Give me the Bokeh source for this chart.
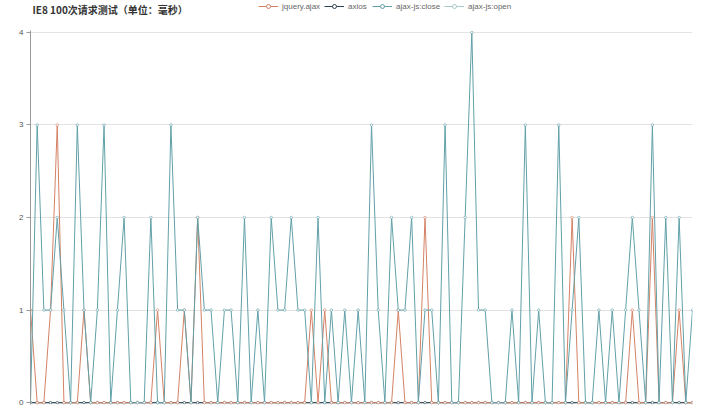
from bokeh.plotting import figure
from bokeh.layouts import column
from bokeh.models import Range1d, FixedTicker, Legend, LegendItem, Span, Label
from bokeh.embed import file_html
from bokeh.resources import INLINE

title_text = "IE8 100次请求测试（单位：毫秒）"
series_names = ["jquery.ajax", "axios", "ajax-js:close", "ajax-js:open"]
series_colors = ["#d48265", "#2f4554", "#61a0a8", "#a9c9c4"]
y_ticks = [0, 1, 2, 3, 4]

requests = list(range(1, 101))

jquery_ajax = [1, 0, 0, 1, 3, 0, 0, 0, 1, 0,
               0, 0, 0, 0, 0, 0, 0, 0, 0, 1,
               0, 0, 0, 1, 0, 2, 0, 0, 0, 0,
               0, 0, 0, 0, 0, 0, 0, 0, 0, 0,
               0, 0, 1, 0, 1, 0, 0, 0, 0, 0,
               0, 0, 0, 0, 0, 1, 0, 0, 0, 2,
               0, 0, 0, 0, 0, 0, 0, 0, 0, 0,
               0, 0, 0, 0, 0, 0, 0, 0, 0, 0,
               0, 2, 0, 0, 0, 0, 0, 0, 0, 0,
               1, 0, 0, 2, 0, 0, 0, 1, 0, 0]

axios = [0, 0, 0, 0, 0, 0, 0, 0, 0, 0,
         0, 0, 0, 0, 0, 0, 0, 0, 0, 0,
         0, 0, 0, 0, 0, 0, 0, 0, 0, 0,
         0, 0, 0, 0, 0, 0, 0, 0, 0, 0,
         0, 0, 0, 0, 0, 0, 0, 0, 0, 0,
         0, 0, 0, 0, 0, 0, 0, 0, 0, 0,
         0, 0, 0, 0, 0, 0, 0, 0, 0, 0,
         0, 0, 0, 0, 0, 0, 0, 0, 0, 0,
         0, 0, 0, 0, 0, 0, 0, 0, 0, 0,
         0, 0, 0, 0, 0, 0, 0, 0, 0, 0]

ajax_js_close = [0, 3, 1, 1, 2, 1, 0, 3, 1, 0,
                 1, 3, 0, 1, 2, 0, 0, 0, 2, 0,
                 0, 3, 1, 1, 0, 2, 1, 1, 0, 1,
                 1, 0, 2, 0, 1, 0, 2, 1, 1, 2,
                 1, 1, 0, 2, 0, 1, 0, 1, 0, 1,
                 0, 3, 1, 0, 2, 1, 1, 2, 0, 1,
                 1, 0, 3, 0, 0, 2, 4, 1, 1, 0,
                 0, 0, 1, 0, 3, 0, 1, 0, 0, 3,
                 0, 1, 2, 0, 0, 1, 0, 1, 0, 1,
                 2, 1, 0, 3, 0, 2, 0, 2, 0, 1]

ajax_js_open = [0, 0, 0, 0, 0, 0, 0, 0, 0, 0,
                0, 0, 0, 0, 0, 0, 0, 0, 0, 0,
                0, 0, 0, 0, 0, 0, 0, 0, 0, 0,
                0, 0, 0, 0, 0, 0, 0, 0, 0, 0,
                0, 0, 0, 0, 0, 0, 0, 0, 0, 0,
                0, 0, 0, 0, 0, 0, 0, 0, 0, 0,
                0, 0, 0, 0, 0, 0, 0, 0, 0, 0,
                0, 0, 0, 0, 0, 0, 0, 0, 0, 0,
                0, 0, 0, 0, 0, 0, 0, 0, 0, 0,
                0, 0, 0, 0, 0, 0, 0, 0, 0, 0]

series_values = [jquery_ajax, axios, ajax_js_close, ajax_js_open]

# ---------- header: title + legend ----------
header = figure(width=715, height=16, output_backend="svg", toolbar_location=None,
                x_axis_type=None, y_axis_type=None,
                x_range=Range1d(0, 1), y_range=Range1d(0, 1),
                min_border_left=0, min_border_right=0, min_border_top=0, min_border_bottom=0)
header.grid.visible = False
header.outline_line_color = None
header.border_fill_color = "white"
header.background_fill_color = "white"

items = []
for i, name in enumerate(series_names):
    lr = header.line(requests, series_values[i], line_color=series_colors[i],
                     line_width=1, visible=False)
    sr = header.scatter(requests, series_values[i], marker="circle", size=8,
                        fill_color="white", line_color=series_colors[i],
                        line_width=1, visible=False)
    items.append(LegendItem(label=name, renderers=[lr, sr]))

legend = Legend(items=items, orientation="horizontal", location=(228, 5),
                label_text_font_size="8px", label_text_font="Liberation Sans",
                label_text_color="#666666",
                glyph_width=20, glyph_height=10, label_height=10,
                spacing=4, label_standoff=4, padding=0, margin=0,
                inactive_fill_alpha=0,
                border_line_color=None, background_fill_alpha=0)
header.add_layout(legend)

title = Label(x=2, y=15, x_units="screen", y_units="screen", text=title_text,
              text_font="Noto Sans CJK SC", text_font_size="10px", text_font_style="bold",
              text_color="#333333", text_baseline="top", text_align="left")
header.add_layout(title)

# ---------- main chart ----------
p = figure(width=715, height=396, output_backend="svg", toolbar_location=None,
           x_range=Range1d(requests[0], requests[-1]),
           y_range=Range1d(-0.02, 4.02),
           min_border_left=30, min_border_right=23, min_border_top=14, min_border_bottom=8)
p.outline_line_color = None
p.background_fill_color = "white"
p.border_fill_color = "white"

p.xaxis.visible = False
p.xgrid.visible = False

p.yaxis.ticker = FixedTicker(ticks=y_ticks)
p.yaxis.axis_line_color = "#999999"
p.yaxis.major_tick_line_color = "#999999"
p.yaxis.major_tick_out = 4
p.yaxis.major_tick_in = 0
p.yaxis.minor_tick_line_color = None
p.yaxis.major_label_text_font_size = "8px"
p.yaxis.major_label_text_color = "#555555"
p.yaxis.major_label_text_font = "Liberation Sans"
p.yaxis.major_label_standoff = 3
p.ygrid.ticker = FixedTicker(ticks=y_ticks[1:])
p.ygrid.grid_line_color = "#e3e3e3"

baseline = Span(location=0, dimension="width", line_color="#333333", line_width=1, level="underlay")
p.add_layout(baseline)

# draw order: zero-series below, then jquery, then close on top
order = [3, 1, 0, 2]
for i in order:
    p.line(requests, series_values[i], line_color=series_colors[i], line_width=1)
    p.scatter(requests, series_values[i], marker="circle", size=2.5,
              fill_color="white", line_color=series_colors[i], line_width=0.6)

layout = column(header, p, spacing=0)
open("out.html", "w").write(file_html(layout, INLINE))
